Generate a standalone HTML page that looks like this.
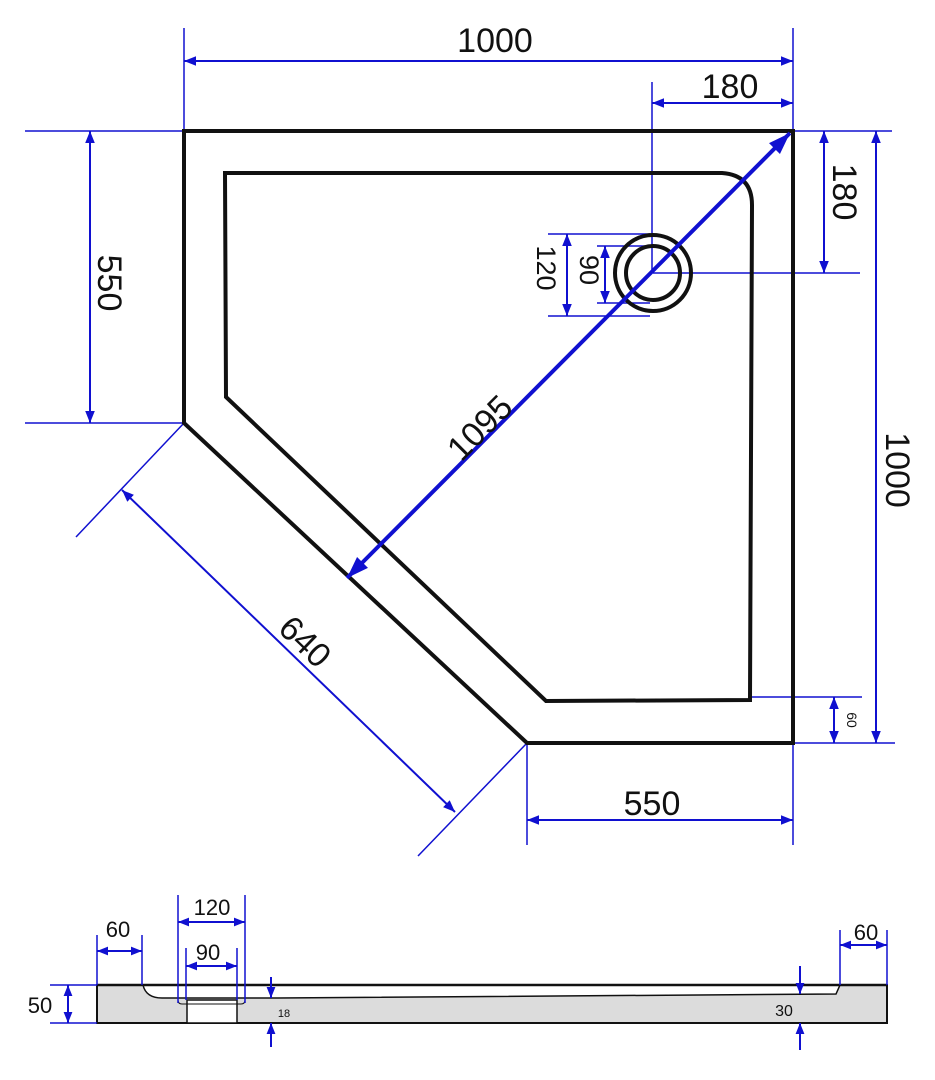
<!DOCTYPE html>
<html><head><style>html,body{margin:0;padding:0;background:#fff}svg{display:block}</style></head>
<body>
<svg width="935" height="1080" viewBox="0 0 935 1080" xmlns="http://www.w3.org/2000/svg" font-family="Liberation Sans, sans-serif">
<defs>
<marker id="a" viewBox="0 0 10 10" refX="10" refY="5" markerWidth="11" markerHeight="11" orient="auto-start-reverse" markerUnits="userSpaceOnUse"><path d="M0,1 L10,5 L0,9 z" fill="#1010d0"/></marker>
<marker id="b" viewBox="0 0 10 10" refX="10" refY="5" markerWidth="12" markerHeight="12" orient="auto-start-reverse" markerUnits="userSpaceOnUse"><path d="M0,1 L10,5 L0,9 z" fill="#1010d0"/></marker>
<marker id="c" viewBox="0 0 10 10" refX="10" refY="5" markerWidth="22" markerHeight="22" orient="auto-start-reverse" markerUnits="userSpaceOnUse"><path d="M0,1.5 L10,5 L0,8.5 z" fill="#1010d0"/></marker>
</defs>
<g stroke="#1010d0" stroke-width="1.5" fill="none">
<line x1="184" y1="28" x2="184" y2="131"/><line x1="793" y1="28" x2="793" y2="131"/>
<line x1="652" y1="82" x2="652" y2="273"/>
<line x1="25" y1="131" x2="184" y2="131"/><line x1="25" y1="423" x2="184" y2="423"/>
<line x1="793" y1="131" x2="892" y2="131"/><line x1="653" y1="273" x2="860" y2="273"/>
<line x1="793" y1="743" x2="895" y2="743"/><line x1="750" y1="697" x2="862" y2="697"/>
<line x1="527" y1="743" x2="527" y2="845"/><line x1="793" y1="743" x2="793" y2="845"/>
<line x1="184" y1="423" x2="76" y2="537"/><line x1="527" y1="743" x2="418" y2="856"/>
<line x1="548" y1="234" x2="650" y2="234"/><line x1="548" y1="316" x2="650" y2="316"/>
<line x1="597" y1="246" x2="650" y2="246"/><line x1="597" y1="303" x2="650" y2="303"/>
</g>
<g stroke="#1010d0" stroke-width="2" fill="none" marker-start="url(#b)" marker-end="url(#b)">
<line x1="184" y1="61" x2="793" y2="61"/>
<line x1="652" y1="103" x2="793" y2="103"/>
<line x1="90" y1="131" x2="90" y2="423"/>
<line x1="824" y1="131" x2="824" y2="273"/>
<line x1="876" y1="131" x2="876" y2="743"/>
<line x1="834" y1="697" x2="834" y2="743"/>
<line x1="527" y1="820" x2="793" y2="820"/>
<line x1="122" y1="490" x2="455" y2="812"/>
<line x1="567" y1="234" x2="567" y2="316"/>
<line x1="605" y1="246" x2="605" y2="303"/>
</g>
<path d="M184,131 L793,131 L793,743 L527,743 L184,423 Z" fill="none" stroke="#111" stroke-width="4"/>
<path d="M225,173 L722,173 Q752,175 752,205 L750,700 L546,701 L226,397 Z" fill="none" stroke="#111" stroke-width="4"/>
<circle cx="653" cy="273" r="38" fill="none" stroke="#111" stroke-width="4"/>
<circle cx="653" cy="273" r="27" fill="none" stroke="#111" stroke-width="4"/>
<line x1="347" y1="578" x2="790" y2="133" stroke="#1010d0" stroke-width="4" marker-start="url(#c)" marker-end="url(#c)"/>
<g fill="#111" font-size="34">
<text x="495" y="52" text-anchor="middle">1000</text>
<text x="730" y="98" text-anchor="middle">180</text>
<text x="652" y="815" text-anchor="middle">550</text>
<text transform="translate(98,283) rotate(90)" text-anchor="middle">550</text>
<text transform="translate(833,192) rotate(90)" text-anchor="middle">180</text>
<text transform="translate(886,470) rotate(90)" text-anchor="middle">1000</text>
<text transform="translate(297,650) rotate(44)" text-anchor="middle">640</text>
<text transform="translate(488,436) rotate(-45)" text-anchor="middle">1095</text>
<text transform="translate(537,268) rotate(90)" text-anchor="middle" font-size="27">120</text>
<text transform="translate(580,270) rotate(90)" text-anchor="middle" font-size="27">90</text>
<text transform="translate(847,720) rotate(90)" text-anchor="middle" font-size="14">60</text>
</g>
<rect x="97" y="985" width="790" height="38" fill="#dcdcdc" stroke="#111" stroke-width="2"/>
<path d="M143,985 Q146,998 162,998 L278,998 L836,994 L840,985 Z" fill="#fff" stroke="#111" stroke-width="1.5"/>
<rect x="187" y="1000" width="50" height="23" fill="#fff" stroke="#111" stroke-width="1.5"/>
<path d="M178,985 L178,1000 Q178,1004 182,1004 L241,1004 Q245,1004 245,1000 L245,985" fill="none" stroke="#111" stroke-width="1"/>
<line x1="97" y1="985" x2="887" y2="985" stroke="#111" stroke-width="2.5"/>
<g stroke="#1010d0" stroke-width="1.5">
<line x1="97" y1="935" x2="97" y2="985"/><line x1="142" y1="935" x2="142" y2="985"/>
<line x1="178" y1="895" x2="178" y2="1003"/><line x1="245" y1="895" x2="245" y2="1003"/>
<line x1="186" y1="948" x2="186" y2="1000"/><line x1="237" y1="948" x2="237" y2="1000"/>
<line x1="840" y1="930" x2="840" y2="985"/><line x1="887" y1="930" x2="887" y2="985"/>
<line x1="50" y1="985" x2="97" y2="985"/><line x1="50" y1="1023" x2="97" y2="1023"/>
</g>
<g stroke="#1010d0" stroke-width="2" marker-start="url(#a)" marker-end="url(#a)">
<line x1="68" y1="985" x2="68" y2="1023"/>
<line x1="97" y1="951" x2="142" y2="951"/>
<line x1="178" y1="922" x2="245" y2="922"/>
<line x1="186" y1="966" x2="237" y2="966"/>
<line x1="840" y1="945" x2="887" y2="945"/>
</g>
<g stroke="#1010d0" stroke-width="2" marker-end="url(#a)">
<line x1="271" y1="977" x2="271" y2="998"/>
<line x1="271" y1="1047" x2="271" y2="1023"/>
<line x1="800" y1="966" x2="800" y2="994"/>
<line x1="800" y1="1050" x2="800" y2="1023"/>
</g>
<g fill="#111" font-size="22">
<text x="40" y="1013" text-anchor="middle">50</text>
<text x="118" y="937" text-anchor="middle">60</text>
<text x="212" y="915" text-anchor="middle">120</text>
<text x="208" y="960" text-anchor="middle">90</text>
<text x="866" y="940" text-anchor="middle">60</text>
<text x="784" y="1016" text-anchor="middle" font-size="16">30</text>
<text x="284" y="1017" text-anchor="middle" font-size="11">18</text>
</g>
</svg>
</body></html>
